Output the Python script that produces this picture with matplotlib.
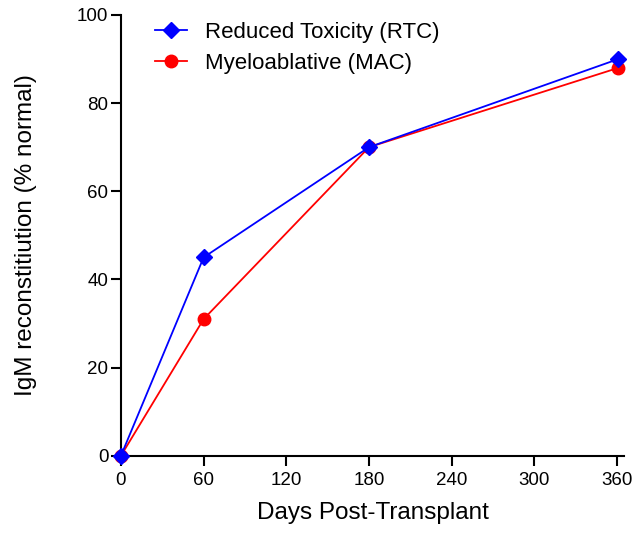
import matplotlib.pyplot as plt

plt.rcParams['font.family'] = ['Liberation Sans', 'DejaVu Sans']

days = [0, 60, 180, 361]
rtc = [0, 45, 70, 90]
mac = [0, 31, 70, 88]

fig = plt.figure(figsize=(6.4, 5.33), dpi=100)
ax = fig.add_axes([0.189, 0.145, 0.786, 0.827])

ax.plot(days, rtc, color='#0000ff', lw=1.3, marker='D', ms=8, clip_on=False,
        label='Reduced Toxicity (RTC)', zorder=3)
ax.plot(days, mac, color='#ff0000', lw=1.3, marker='o', ms=9, clip_on=False,
        label='Myeloablative (MAC)', zorder=2)

ax.set_xlim(0, 365)
ax.set_ylim(0, 100)
ax.set_xticks(range(0, 361, 60))
ax.set_yticks(range(0, 101, 20))
ax.spines['top'].set_visible(False)
ax.spines['right'].set_visible(False)
for s in ['left', 'bottom']:
    ax.spines[s].set_linewidth(1.5)
ax.tick_params(direction='out', length=7, width=1.5, labelsize=13.5)
ax.tick_params(axis='y', pad=2)
ax.tick_params(axis='x', pad=5)

ax.set_xlabel('Days Post-Transplant', fontsize=17.5, labelpad=9)
ax.set_ylabel('IgM reconstitiution (% normal)', fontsize=17.5, labelpad=29)

ax.legend(loc='upper left', bbox_to_anchor=(0.027, 1.03), frameon=False,
          fontsize=16, handlelength=1.45, handletextpad=0.8, labelspacing=0.45)

fig.savefig('out.png', dpi=100)
